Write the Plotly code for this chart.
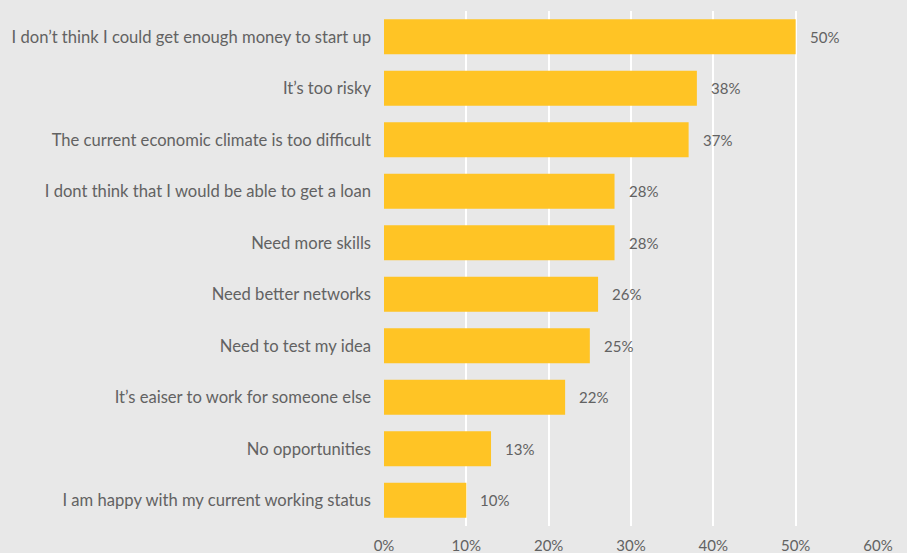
import plotly.graph_objects as go

# Reasons given for not starting a business (share of respondents)
reasons = [
    "I don’t think I could get enough money to start up",
    "It’s too risky",
    "The current economic climate is too difficult",
    "I dont think that I would be able to get a loan",
    "Need more skills",
    "Need better networks",
    "Need to test my idea",
    "It’s eaiser to work for someone else",
    "No opportunities",
    "I am happy with my current working status",
]
shares = [0.50, 0.38, 0.37, 0.28, 0.28, 0.26, 0.25, 0.22, 0.13, 0.10]

tick_vals = [0, 0.1, 0.2, 0.3, 0.4, 0.5, 0.6]
tick_text = ["0%", "10%", "20%", "30%", "40%", "50%", "60%"]

BAR = "#FFC425"
BG = "#E8E8E8"
TXT = "#626262"
FONT = "Lato"

fig = go.Figure(
    go.Bar(
        x=shares,
        y=reasons,
        orientation="h",
        marker=dict(color=BAR, line=dict(width=0)),
        width=0.68,
        hoverinfo="skip",
    )
)

# value labels just past the end of each bar
for r, v in zip(reasons, shares):
    fig.add_annotation(
        x=v, y=r, text=f"{round(v * 100)}%", showarrow=False,
        xanchor="left", xshift=12, font=dict(family=FONT, size=15, color=TXT),
    )

fig.update_layout(
    width=907, height=553,
    margin=dict(l=384, r=29, t=11, b=27),
    paper_bgcolor=BG, plot_bgcolor=BG,
    showlegend=False,
    font=dict(family=FONT, size=15, color=TXT),
    xaxis=dict(
        range=[0, 0.6], tickvals=tick_vals, ticktext=tick_text,
        showgrid=True, gridcolor="#FFFFFF", gridwidth=2,
        zeroline=False, showline=False, ticks="",
        ticklabelstandoff=9, automargin=False,
        tickfont=dict(family=FONT, size=15, color=TXT),
        fixedrange=True,
    ),
    yaxis=dict(
        autorange="reversed", showgrid=False, zeroline=False,
        ticks="", ticklabelstandoff=12, automargin=False,
        tickfont=dict(family=FONT, size=16.6, color=TXT),
        fixedrange=True,
    ),
)

fig.write_html("out.html")
